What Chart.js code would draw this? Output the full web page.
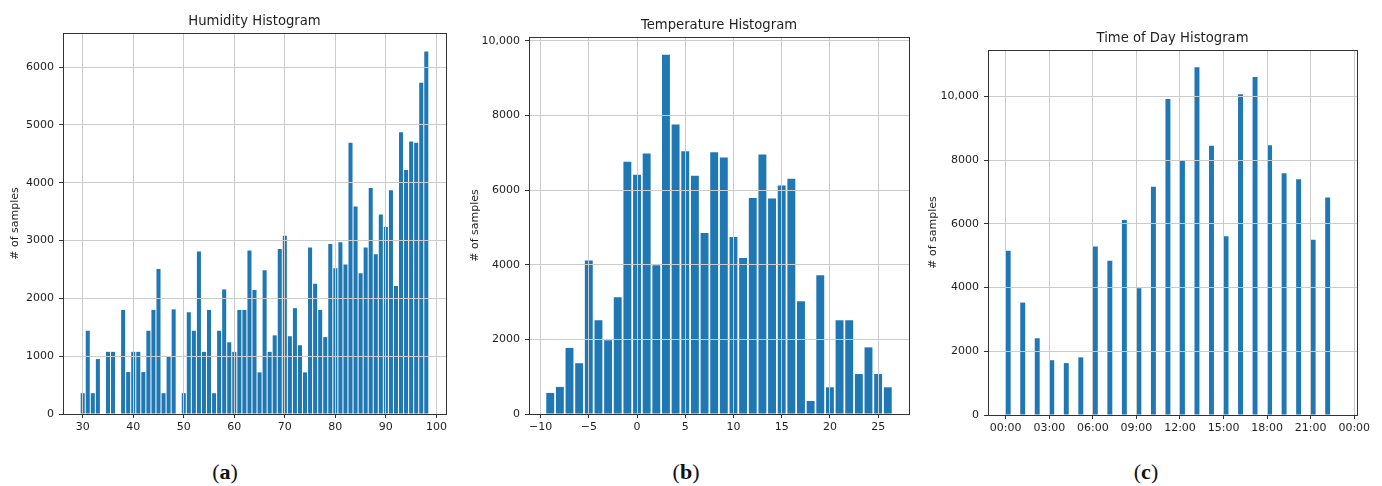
<!DOCTYPE html>
<html lang="en">

<head>
  <meta charset="UTF-8">
  <title>Humidity, Temperature and Time of Day Histograms</title>
  <script src="https://cdn.jsdelivr.net/npm/chart.js"></script>
  <style>
    body { margin: 0; background: #fff; width: 1382px; height: 486px; position: relative; overflow: hidden; }
    canvas { position: absolute; top: 0; }
    .caption { position: absolute; top: 461px; font: 22px "Liberation Serif", serif; line-height: 22px; color: #111; transform: translateX(-50%); }
  </style>
</head>

<body>

  <canvas id="humidityChart" width="460" height="440" style="left:0px"></canvas>
  <canvas id="temperatureChart" width="460" height="440" style="left:460px"></canvas>
  <canvas id="timeChart" width="462" height="440" style="left:920px"></canvas>

  <div class="caption" style="left:225px">(<b>a</b>)</div>
  <div class="caption" style="left:686px">(<b>b</b>)</div>
  <div class="caption" style="left:1146px">(<b>c</b>)</div>

  <script>
    // --- data ---
    const humidityBins = [30, 31, 32, 33, 34, 35, 36, 37, 38, 39,
      40, 41, 42, 43, 44, 45, 46, 47, 48, 49,
      50, 51, 52, 53, 54, 55, 56, 57, 58, 59,
      60, 61, 62, 63, 64, 65, 66, 67, 68, 69,
      70, 71, 72, 73, 74, 75, 76, 77, 78, 79,
      80, 81, 82, 83, 84, 85, 86, 87, 88, 89,
      90, 91, 92, 93, 94, 95, 96, 97, 98];
    const humidityCounts = [360, 1440, 360, 950, 0, 1075, 1075, 0, 1800, 725,
      1075, 1075, 725, 1440, 1800, 2510, 360, 995, 1810, 0,
      360, 1760, 1440, 2810, 1075, 1800, 360, 1440, 2155, 1240,
      1075, 1800, 1800, 2830, 2145, 720, 2485, 1075, 1360, 2855,
      3085, 1345, 1830, 1190, 720, 2880, 2255, 1800, 1330, 2940,
      2520, 2970, 2585, 4690, 3590, 2435, 2880, 3910, 2765, 3450,
      3235, 3870, 2215, 4875, 4220, 4715, 4690, 5730, 6270];
    const humidityTicksX = [30, 40, 50, 60, 70, 80, 90, 100];
    const humidityTickLabelsX = ['30', '40', '50', '60', '70', '80', '90', '100'];
    const humidityTicksY = [0, 1000, 2000, 3000, 4000, 5000, 6000];
    const humidityTickLabelsY = ['0', '1000', '2000', '3000', '4000', '5000', '6000'];

    const temperatureBins = [-9, -8, -7, -6, -5, -4, -3, -2, -1,
      0, 1, 2, 3, 4, 5, 6, 7, 8, 9,
      10, 11, 12, 13, 14, 15, 16, 17, 18, 19,
      20, 21, 22, 23, 24, 25, 26];
    const temperatureCounts = [565, 725, 1770, 1360, 4110, 2510, 1975, 3130, 6755,
      6410, 6980, 3985, 9625, 7755, 7040, 6380, 4850, 7015, 6870,
      4745, 4180, 5790, 6950, 5770, 6120, 6300, 3020, 350, 3715,
      715, 2510, 2510, 1070, 1785, 1070, 715];
    const temperatureTicksX = [-10, -5, 0, 5, 10, 15, 20, 25];
    const temperatureTickLabelsX = ['\u221210', '\u22125', '0', '5', '10', '15', '20', '25'];
    const countTicksY = [0, 2000, 4000, 6000, 8000, 10000];
    const countTickLabelsY = ['0', '2000', '4000', '6000', '8000', '10,000'];

    const timeBins = [0, 1, 2, 3, 4, 5, 6, 7, 8, 9, 10, 11,
      12, 13, 14, 15, 16, 17, 18, 19, 20, 21, 22];
    const timeCounts = [5160, 3530, 2410, 1720, 1630, 1810, 5290, 4840, 6120, 3980, 7170, 9920,
      7980, 10920, 8450, 5610, 10070, 10610, 8470, 7590, 7400, 5500, 6830];
    const timeTicksX = [0, 3, 6, 9, 12, 15, 18, 21, 24];
    const timeTickLabelsX = ['00:00', '03:00', '06:00', '09:00', '12:00', '15:00', '18:00', '21:00', '00:00'];

    // --- styling ---
    const barColor = '#1f77b4';
    const gridColor = '#cbcbcb';
    const inkColor = '#1e1e1e';
    const tickFont = { family: '"DejaVu Sans", sans-serif', size: 11 };

    // matplotlib-like frame and title above the axes
    const axesFrame = {
      id: 'axesFrame',
      afterDraw(chart, args, opts) {
        const { ctx, chartArea: a } = chart;
        const l = Math.round(a.left) + 0.5, t = Math.round(a.top) + 0.5;
        const r = Math.round(a.right) + 0.5, b = Math.round(a.bottom) + 0.5;
        ctx.save();
        ctx.strokeStyle = '#333';
        ctx.lineWidth = 1;
        ctx.strokeRect(l, t, r - l, b - t);
        ctx.fillStyle = inkColor;
        ctx.font = '13.2px "DejaVu Sans", sans-serif';
        ctx.textAlign = 'center';
        ctx.textBaseline = 'alphabetic';
        ctx.fillText(opts.text, (a.left + a.right) / 2, a.top - 8.3);
        ctx.restore();
      }
    };

    function makeHistogram(id, s) {
      const canvas = document.getElementById(id);
      const cw = canvas.width, ch = canvas.height;
      return new Chart(canvas, {
        type: 'bar',
        data: {
          datasets: [{
            data: s.bins.map((b, i) => ({ x: b + s.shift, y: s.counts[i] })),
            backgroundColor: barColor,
            borderWidth: 0,
            barPercentage: s.barWidth,
            categoryPercentage: 1
          }]
        },
        options: {
          responsive: false,
          animation: false,
          devicePixelRatio: 1,
          layout: { padding: { left: 0, top: s.area.top, right: cw - s.area.right, bottom: 0 } },
          plugins: {
            legend: { display: false },
            tooltip: { enabled: false },
            axesFrame: { text: s.title }
          },
          scales: {
            x: {
              type: 'linear',
              min: s.xMin, max: s.xMax,
              offset: false,
              afterBuildTicks: sc => { sc.ticks = s.xTicks.map(v => ({ value: v })); },
              afterFit: sc => { sc.height = ch - s.area.bottom; },
              grid: { color: gridColor, z: 1, offset: false, tickColor: '#333', tickLength: 4 },
              border: { display: false },
              ticks: { font: tickFont, color: inkColor, padding: 3, maxRotation: 0, autoSkip: false,
                callback: (v, i) => s.xLabels[i] }
            },
            y: {
              min: 0, max: s.yMax,
              afterBuildTicks: sc => { sc.ticks = s.yTicks.map(v => ({ value: v })); },
              afterFit: sc => { sc.width = s.area.left; },
              grid: { color: gridColor, z: 1, tickColor: '#333', tickLength: 4 },
              border: { display: false },
              ticks: { font: tickFont, color: inkColor, padding: 5,
                callback: (v, i) => s.yLabels[i] },
              title: { display: true, text: '# of samples', font: tickFont, color: inkColor,
                padding: { top: s.yTitlePad, bottom: 0 } }
            }
          }
        },
        plugins: [axesFrame]
      });
    }

    makeHistogram('humidityChart', {
      title: 'Humidity Histogram',
      bins: humidityBins, counts: humidityCounts, shift: 0, barWidth: 0.8,
      xMin: 26.1, xMax: 101.9, yMax: 6590,
      xTicks: humidityTicksX, xLabels: humidityTickLabelsX,
      yTicks: humidityTicksY, yLabels: humidityTickLabelsY,
      area: { left: 63, top: 33, right: 446, bottom: 414 },
      yTitlePad: 8.4
    });

    makeHistogram('temperatureChart', {
      title: 'Temperature Histogram',
      bins: temperatureBins, counts: temperatureCounts, shift: 0, barWidth: 0.82,
      xMin: -11.2, xMax: 28.2, yMax: 10100,
      xTicks: temperatureTicksX, xLabels: temperatureTickLabelsX,
      yTicks: countTicksY, yLabels: countTickLabelsY,
      area: { left: 69, top: 37, right: 449, bottom: 414 },
      yTitlePad: 8.4
    });

    // time bars sit just right of each hour mark
    makeHistogram('timeChart', {
      title: 'Time of Day Histogram',
      bins: timeBins, counts: timeCounts, shift: 0.17, barWidth: 0.34,
      xMin: -1.22, xMax: 24.19, yMax: 11460,
      xTicks: timeTicksX, xLabels: timeTickLabelsX,
      yTicks: countTicksY, yLabels: countTickLabelsY,
      area: { left: 68, top: 50, right: 437, bottom: 415 },
      yTitlePad: 6.7
    });
  </script>

</body>

</html>
